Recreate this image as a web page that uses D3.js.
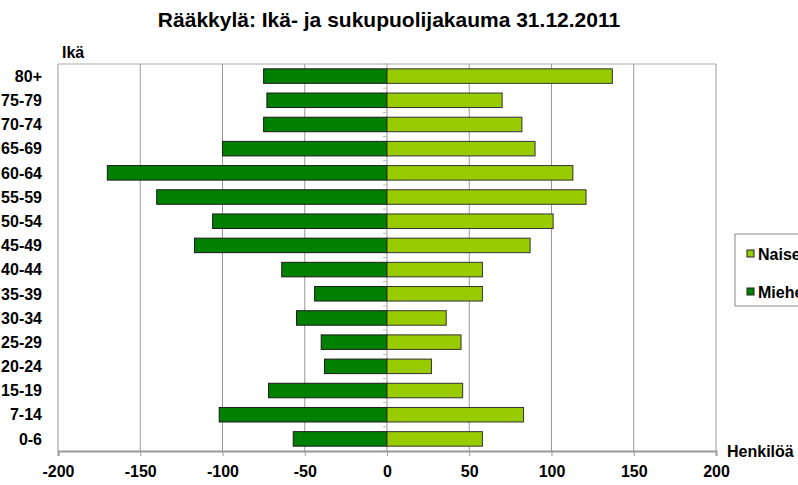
<!DOCTYPE html>
<html>
<head>
<meta charset="utf-8">
<script src="https://cdn.jsdelivr.net/npm/d3@7"></script>
<style>
  body { margin: 0; background: #fff; }
  svg { font-family: "Liberation Sans", Arial, sans-serif; font-weight: bold; }
</style>
</head>
<body>
<div id="chart"></div>
<script>
const ageGroups = ["80+", "75-79", "70-74", "65-69", "60-64", "55-59", "50-54", "45-49",
  "40-44", "35-39", "30-34", "25-29", "20-24", "15-19", "7-14", "0-6"];
const men = [75, 73, 75, 100, 170, 140, 106, 117, 64, 44, 55, 40, 38, 72, 102, 57];
const women = [137, 70, 82, 90, 113, 121, 101, 87, 58, 58, 36, 45, 27, 46, 83, 58];
const xTicks = [-200, -150, -100, -50, 0, 50, 100, 150, 200];
const seriesNames = ["Naiset", "Miehet"];
const colors = { Naiset: "#99cc00", Miehet: "#008000" };

const W = 798, H = 485;
const margin = { top: 64, right: 82, bottom: 34, left: 58 };
const width = W - margin.left - margin.right;
const height = H - margin.top - margin.bottom;

const root = d3.select("#chart").append("svg")
  .attr("width", W)
  .attr("height", H);

root.append("text")
  .attr("x", 389)
  .attr("y", 27)
  .attr("text-anchor", "middle")
  .attr("font-size", 21)
  .text("Rääkkylä: Ikä- ja sukupuolijakauma 31.12.2011");

const svg = root.append("g")
  .attr("transform", `translate(${margin.left}, ${margin.top})`);

const x = d3.scaleLinear().domain([-200, 200]).range([0, width]);
const y = d3.scaleBand().domain(ageGroups).range([0, height]).paddingInner(0.4).paddingOuter(0.2);

// vertical gridlines
svg.append("g")
  .selectAll("line")
  .data(xTicks)
  .join("line")
  .attr("x1", d => x(d)).attr("x2", d => x(d))
  .attr("y1", 0).attr("y2", height)
  .attr("stroke", "#999")
  .attr("stroke-width", 1);

// plot border (top)
svg.append("line")
  .attr("x1", 0).attr("x2", width)
  .attr("y1", 0).attr("y2", 0)
  .attr("stroke", "#aaa");

// bars
const rows = ageGroups.map((g, i) => ({ group: g, men: men[i], women: women[i] }));

svg.append("g")
  .selectAll("rect")
  .data(rows)
  .join("rect")
  .attr("x", d => x(-d.men))
  .attr("y", d => y(d.group))
  .attr("width", d => x(0) - x(-d.men))
  .attr("height", y.bandwidth())
  .attr("fill", colors.Miehet)
  .attr("stroke", "#1a1a1a")
  .attr("stroke-width", 1);

svg.append("g")
  .selectAll("rect")
  .data(rows)
  .join("rect")
  .attr("x", x(0))
  .attr("y", d => y(d.group))
  .attr("width", d => x(d.women) - x(0))
  .attr("height", y.bandwidth())
  .attr("fill", colors.Naiset)
  .attr("stroke", "#333")
  .attr("stroke-width", 1);

// small category ticks on the zero line
const step = y.step();
svg.append("g")
  .selectAll("line")
  .data(d3.range(ageGroups.length + 1))
  .join("line")
  .attr("x1", x(0) - 4).attr("x2", x(0))
  .attr("y1", i => i * step).attr("y2", i => i * step)
  .attr("stroke", "#bbb");

// category labels at left
svg.append("g")
  .selectAll("text")
  .data(ageGroups)
  .join("text")
  .attr("x", -16)
  .attr("y", d => y(d) + y.bandwidth() / 2)
  .attr("dy", "0.36em")
  .attr("text-anchor", "end")
  .attr("font-size", 16)
  .text(d => d);

// x axis
const xAxis = svg.append("g")
  .attr("transform", `translate(0, ${height})`)
  .call(d3.axisBottom(x).tickValues(xTicks).tickFormat(d => String(d)).tickSize(5).tickPadding(10));
xAxis.select(".domain").attr("stroke", "#999").attr("stroke-width", 2);
xAxis.selectAll(".tick line").attr("stroke", "#999");
xAxis.selectAll(".tick text")
  .attr("font-size", 16)
  .attr("font-weight", "bold")
  .attr("font-family", "Liberation Sans, Arial, sans-serif")
  .attr("fill", "#000");

svg.append("text")
  .attr("x", 4)
  .attr("y", -6)
  .attr("font-size", 16)
  .text("Ikä");

svg.append("text")
  .attr("x", width + 11)
  .attr("y", height + 6)
  .attr("font-size", 16)
  .text("Henkilöä");

// legend
const legend = root.append("g").attr("transform", "translate(735, 234)");
legend.append("rect")
  .attr("width", 80).attr("height", 72)
  .attr("fill", "#fff")
  .attr("stroke", "#888");

seriesNames.forEach((name, i) => {
  const row = legend.append("g").attr("transform", `translate(12, ${16 + i * 38})`);
  row.append("rect")
    .attr("width", 7).attr("height", 7)
    .attr("fill", colors[name])
    .attr("stroke", "#222");
  row.append("text")
    .attr("x", 11)
    .attr("y", 4)
    .attr("dy", "0.36em")
    .attr("font-size", 16)
    .text(name);
});
</script>
</body>
</html>
